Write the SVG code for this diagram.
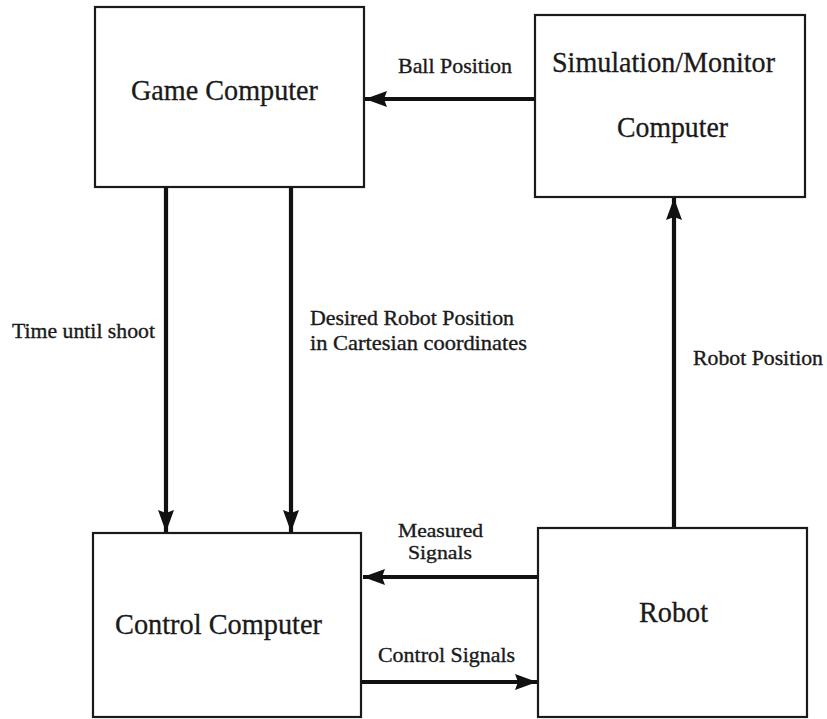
<svg xmlns="http://www.w3.org/2000/svg" width="827" height="719" viewBox="0 0 827 719">
  <style>
    .box { fill: #ffffff; stroke: #1a1a1a; stroke-width: 2.2; }
    .node { font-family: "Liberation Serif", "Times New Roman", serif; font-size: 29px; fill: #1a1a1a; stroke: #1a1a1a; stroke-width: 0.3; }
    .lbl { font-family: "Liberation Serif", "Times New Roman", serif; font-size: 21px; fill: #1a1a1a; stroke: #1a1a1a; stroke-width: 0.35; }
    .lbl.tight { font-size: 19px; }
    .wire { fill: none; stroke: #111111; stroke-width: 4.2; }
  </style>
  <defs>
    <marker id="head" markerUnits="userSpaceOnUse" markerWidth="24" markerHeight="18" refX="22" refY="9" orient="auto">
      <path d="M0,1 L22,9 L0,17 L3,9 z" fill="#111111"/>
    </marker>
  </defs>

  <rect width="827" height="719" fill="#ffffff"/>

  <g id="connectors">
    <!-- Simulation/Monitor -> Game Computer -->
    <line class="wire" x1="535" y1="99" x2="365" y2="99" marker-end="url(#head)"/>
    <!-- Game Computer -> Control Computer (two feeds) -->
    <line class="wire" x1="166" y1="188" x2="166" y2="532" marker-end="url(#head)"/>
    <line class="wire" x1="291" y1="188" x2="291" y2="532" marker-end="url(#head)"/>
    <!-- Robot -> Simulation/Monitor -->
    <line class="wire" x1="674" y1="528" x2="674" y2="198" marker-end="url(#head)"/>
    <!-- Robot -> Control Computer -->
    <line class="wire" x1="538" y1="577" x2="363" y2="577" marker-end="url(#head)"/>
    <!-- Control Computer -> Robot -->
    <line class="wire" x1="361" y1="682" x2="537" y2="682" marker-end="url(#head)"/>

    <text class="lbl" x="398" y="73" textLength="114" lengthAdjust="spacingAndGlyphs">Ball Position</text>
    <text class="lbl" x="12" y="338" textLength="143" lengthAdjust="spacingAndGlyphs">Time until shoot</text>
    <text class="lbl" x="310" y="325" textLength="204" lengthAdjust="spacingAndGlyphs">Desired Robot Position</text>
    <text class="lbl" x="310" y="350" textLength="217" lengthAdjust="spacingAndGlyphs">in Cartesian  coordinates</text>
    <text class="lbl" x="693" y="365" textLength="130" lengthAdjust="spacingAndGlyphs">Robot Position</text>
    <text class="lbl tight" x="398" y="537" textLength="85" lengthAdjust="spacingAndGlyphs">Measured</text>
    <text class="lbl tight" x="408" y="559" textLength="64" lengthAdjust="spacingAndGlyphs">Signals</text>
    <text class="lbl" x="378" y="662" textLength="137" lengthAdjust="spacingAndGlyphs">Control Signals</text>
  </g>

  <g id="game-computer">
    <rect class="box" x="95" y="7" width="269" height="180"/>
    <text class="node" x="131" y="100" textLength="187" lengthAdjust="spacingAndGlyphs">Game Computer</text>
  </g>

  <g id="simulation-monitor">
    <rect class="box" x="535" y="15" width="270" height="182"/>
    <text class="node" x="552" y="72" textLength="223" lengthAdjust="spacingAndGlyphs">Simulation/Monitor</text>
    <text class="node" x="617" y="137" textLength="111" lengthAdjust="spacingAndGlyphs">Computer</text>
  </g>

  <g id="control-computer">
    <rect class="box" x="93" y="533" width="268" height="184"/>
    <text class="node" x="115" y="634" textLength="207" lengthAdjust="spacingAndGlyphs">Control Computer</text>
  </g>

  <g id="robot">
    <rect class="box" x="538" y="528" width="269" height="189"/>
    <text class="node" x="639" y="622" textLength="69" lengthAdjust="spacingAndGlyphs">Robot</text>
  </g>
</svg>
